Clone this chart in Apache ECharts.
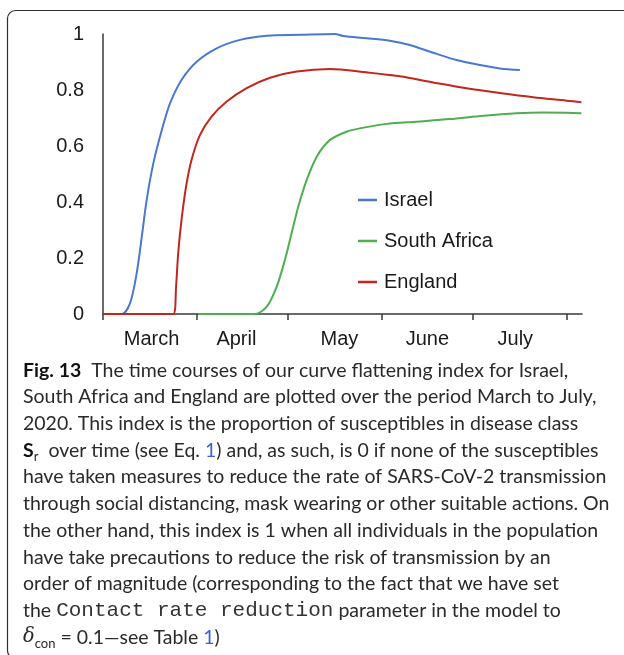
<!DOCTYPE html>
<html>
<head>
<meta charset="utf-8">
<script src="https://cdn.jsdelivr.net/npm/echarts@6/dist/echarts.min.js"></script>
<style>
  html, body { margin: 0; padding: 0; background: #fff; }
  #chart { width: 624px; height: 655px; }
</style>
</head>
<body>
<div id="chart"></div>
<script>
// Days counted from 1 March 2020.
const israelDays = [0, 6.2, 8.9, 11.1, 12.8, 14.4, 16.6, 19.4, 22.1, 25.9, 30.9, 37.5, 45.2, 54.0, 65.0, 76.5, 79.2, 86.9, 94.6, 101.2, 108.9, 116.6, 124.3, 130.9, 137.5];
const israelIndex = [0, 0, 0.038, 0.145, 0.276, 0.407, 0.538, 0.657, 0.752, 0.836, 0.901, 0.949, 0.979, 0.994, 0.997, 1.0, 0.993, 0.985, 0.976, 0.961, 0.933, 0.907, 0.889, 0.877, 0.871];

const southAfricaDays = [31.4, 50.1, 54.0, 57.3, 60.0, 62.2, 64.4, 67.2, 70.5, 74.8, 80.3, 84.7, 93.5, 103.4, 114.4, 125.4, 136.3, 145.1, 152.9, 157.8];
const southAfricaIndex = [0, 0, 0.026, 0.098, 0.193, 0.288, 0.383, 0.479, 0.562, 0.621, 0.651, 0.663, 0.679, 0.687, 0.696, 0.708, 0.717, 0.72, 0.719, 0.717];

const englandDays = [0, 23.2, 24.1, 24.8, 25.9, 27.4, 29.2, 32.0, 35.8, 40.8, 47.4, 55.1, 63.9, 74.8, 86.9, 97.9, 108.9, 119.9, 130.9, 141.9, 152.9, 157.8];
const englandIndex = [0, 0, 0.098, 0.217, 0.336, 0.455, 0.55, 0.64, 0.705, 0.759, 0.807, 0.844, 0.866, 0.875, 0.863, 0.849, 0.827, 0.806, 0.789, 0.774, 0.762, 0.756];

// Month boundaries (tick marks) and month-name label positions.
const monthStarts = [0, 31, 61, 92, 122, 153];
const monthLabelDays = [16, 44, 78, 107, 136];
const monthNames = ['March', 'April', 'May', 'June', 'July'];
const yTicks = [0, 0.2, 0.4, 0.6, 0.8, 1];

const pair = (xs, ys) => xs.map((x, i) => [x, ys[i]]);

const captionLines = [
  '{b|Fig. 13}  The time courses of our curve flattening index for Israel,',
  'South Africa and England are plotted over the period March to July,',
  '2020. This index is the proportion of susceptibles in disease class',
  '{b|S}{sub|r}  over time (see Eq. {ln|1}) and, as such, is 0 if none of the susceptibles',
  'have taken measures to reduce the rate of SARS-CoV-2 transmission',
  'through social distancing, mask wearing or other suitable actions. On',
  'the other hand, this index is 1 when all individuals in the population',
  'have take precautions to reduce the risk of transmission by an',
  'order of magnitude (corresponding to the fact that we have set',
  'the {mono|Contact rate reduction} parameter in the model to',
  '{it|δ}{sub|con} = 0.1—see Table {ln|1})'
];

const capFont = 'Lato';
const capSize = 19.5;
const capColor = '#2a2a2a';
const capLH = 26.7;

const chart = echarts.init(document.getElementById('chart'), null, { renderer: 'canvas' });

const axisFont = { fontFamily: 'Liberation Sans', fontSize: 20, color: '#1a1a1a' };
const lineStyleOf = c => ({ color: c, width: 2 });

chart.setOption({
  animation: false,
  backgroundColor: '#fff',
  grid: { left: 103, right: 42, top: 34, bottom: 341 },
  xAxis: {
    type: 'value',
    min: 0,
    max: 158,
    splitLine: { show: false },
    axisLine: { show: true, lineStyle: { color: '#3a3a3a', width: 1.5 } },
    axisTick: { show: true, customValues: monthStarts, length: 6, lineStyle: { color: '#3a3a3a', width: 1.5 } },
    axisLabel: {
      customValues: monthLabelDays,
      margin: 15,
      ...axisFont,
      formatter: v => monthNames[monthLabelDays.indexOf(v)] || ''
    }
  },
  yAxis: {
    type: 'value',
    min: 0,
    max: 1,
    interval: 0.2,
    splitLine: { show: false },
    axisLine: { show: true, lineStyle: { color: '#3a3a3a', width: 1.5 } },
    axisTick: { show: false },
    axisLabel: {
      margin: 19,
      ...axisFont,
      formatter: v => String(yTicks.find(t => Math.abs(t - v) < 1e-9) ?? v)
    }
  },
  legend: {
    orient: 'vertical',
    left: 353,
    top: 185,
    icon: 'rect',
    itemWidth: 19,
    itemHeight: 2.5,
    itemGap: 21,
    textStyle: { fontFamily: 'Liberation Sans', fontSize: 20, color: '#1a1a1a', lineHeight: 20, padding: [0, 0, 0, 2] },
    data: ['Israel', 'South Africa', 'England']
  },
  series: [
    {
      name: 'Israel', type: 'line', data: pair(israelDays, israelIndex),
      showSymbol: false, smooth: 0.3,
      color: '#4b78cf', lineStyle: lineStyleOf('#4b78cf')
    },
    {
      name: 'South Africa', type: 'line', data: pair(southAfricaDays, southAfricaIndex),
      showSymbol: false, smooth: 0.3,
      color: '#4daf4f', lineStyle: lineStyleOf('#4daf4f')
    },
    {
      name: 'England', type: 'line', data: pair(englandDays, englandIndex),
      showSymbol: false, smooth: 0.3,
      color: '#c0271d', lineStyle: lineStyleOf('#c0271d')
    }
  ],
  graphic: [
    {
      type: 'rect',
      silent: true,
      shape: { x: 7.5, y: 10.5, width: 640, height: 648, r: 8 },
      style: { fill: 'none', stroke: '#2d2d2d', lineWidth: 1.2 }
    },
    {
      type: 'text',
      silent: true,
      x: 23,
      y: 357,
      style: {
        text: captionLines.join('\n'),
        fontFamily: capFont,
        fontSize: capSize,
        lineHeight: capLH,
        fill: capColor,
        verticalAlign: 'top',
        rich: {
          b: { fontFamily: capFont, fontSize: capSize, fontWeight: 'bold', fill: '#111', lineHeight: capLH },
          sub: { fontFamily: capFont, fontSize: 13, fill: capColor, lineHeight: 14, verticalAlign: 'bottom' },
          ln: { fontFamily: capFont, fontSize: capSize, fill: '#3b5fd6', lineHeight: capLH },
          mono: { fontFamily: 'Liberation Mono', fontSize: 21, fill: '#333', lineHeight: capLH },
          it: { fontFamily: 'DejaVu Serif', fontStyle: 'italic', fontSize: capSize, fill: capColor, lineHeight: capLH }
        }
      }
    }
  ]
});
</script>
</body>
</html>
